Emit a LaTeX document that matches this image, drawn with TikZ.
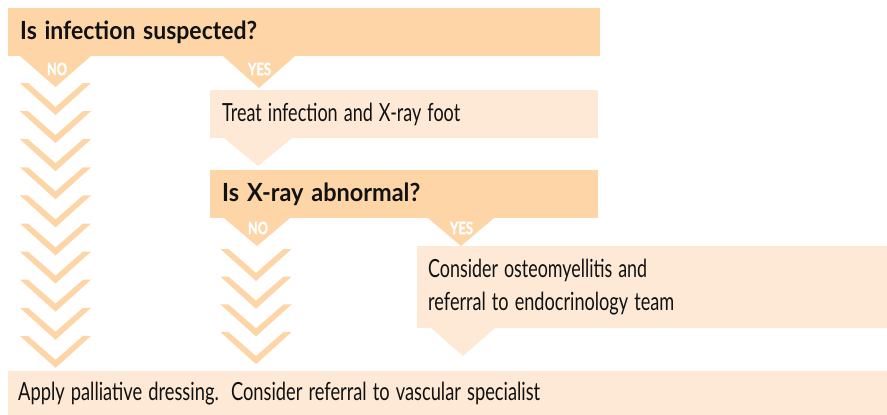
\documentclass[tikz,border=0pt]{standalone}
\usepackage{fontspec}
\setmainfont{Lato}
\newfontfamily\labfont[BoldFeatures={FakeBold=2}]{Lato}
\usepackage{graphicx}
\definecolor{darkfill}{HTML}{FDD5A6}
\definecolor{lightfill}{HTML}{FDE9D5}
\definecolor{txt}{HTML}{111111}
\newcommand\fitw[2]{\resizebox{#1}{\height}{#2}}
\begin{document}
\begin{tikzpicture}[x=1pt,y=-1pt,
  boxbase/.style={anchor=north west, inner xsep=12pt, inner ysep=0pt, align=left,
    text=txt, font=\fontsize{25}{33}\selectfont},
  qbox/.style={boxbase, fill=darkfill},
  abox/.style={boxbase, fill=lightfill},
  lab/.style={text=white, inner sep=0pt, font=\labfont\bfseries\fontsize{17}{17}\selectfont},
  chev/.style={fill=darkfill},
  ]
\useasboundingbox (0,0) rectangle (887,415);
% boxes
\node[qbox, text width=568pt, minimum height=48pt] (q1) at (8,8)
  {\fitw{237pt}{\bfseries Is infection suspected?}};
\node[abox, text width=364pt, minimum height=48pt] (a1) at (210,90)
  {\fitw{238pt}{Treat infection and X-ray foot}};
\node[qbox, text width=364pt, minimum height=48pt] (q2) at (210,170)
  {\fitw{198pt}{\bfseries Is X-ray abnormal?}};
\node[abox, minimum height=82pt, inner xsep=11pt, text width=448pt] (a2) at (417,246)
  {\fitw{219pt}{Consider osteomyellitis and}\\ \fitw{246pt}{referral to endocrinology team}};
\node[abox, minimum height=44pt, inner xsep=10pt, text width=859pt] (e) at (8,371)
  {\fitw{522pt}{Apply palliative dressing.\ \ Consider referral to vascular specialist}};
% triangles
\fill[darkfill] (20,56) -- (91,56) -- (55.5,87) -- cycle;
\fill[darkfill] (223,56) -- (295,56) -- (259,88) -- cycle;
\fill[lightfill] (224,138) -- (292,138) -- (258,166) -- cycle;
\fill[darkfill] (224,218) -- (290,218) -- (257,246) -- cycle;
\fill[darkfill] (428,218) -- (494,218) -- (461,246) -- cycle;
\fill[lightfill] (431,328) -- (495,328) -- (463,356) -- cycle;
% labels
\node[lab] (n1) at (57,69) {\fitw{20pt}{NO}};
\node[lab] (y1) at (259.5,69) {\fitw{23pt}{YES}};
\node[lab] (n2) at (258,228) {\fitw{20pt}{NO}};
\node[lab] (y2) at (461.5,228) {\fitw{23pt}{YES}};
% chevrons
\foreach \k in {0,...,9}
  \fill[chev] (20,{83+28.1*\k}) -- ++(8,0) -- ++(27.5,24) -- ++(27.5,-24) -- ++(8,0) -- ++(-35.5,32) -- cycle;
\foreach \k in {0,...,3}
  \fill[chev] (220.5,{249+27.7*\k}) -- ++(8,0) -- ++(27.5,24) -- ++(27.5,-24) -- ++(8,0) -- ++(-35.5,32) -- cycle;
\end{tikzpicture}
\end{document}
